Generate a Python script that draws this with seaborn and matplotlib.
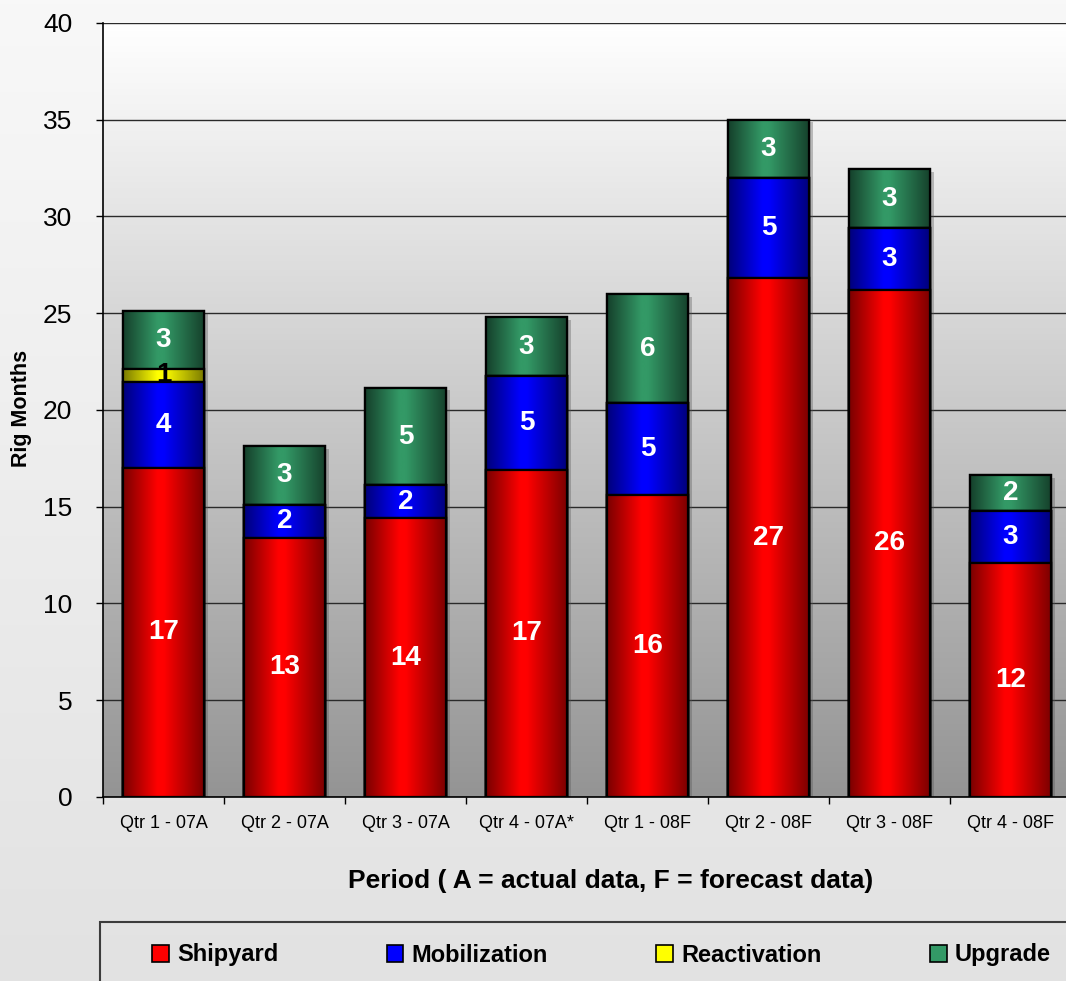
import numpy as np
import matplotlib
matplotlib.use('Agg')
import matplotlib.pyplot as plt
import matplotlib.patheffects as pe
from matplotlib.colors import LinearSegmentedColormap
from matplotlib.patches import Rectangle, Patch
import seaborn as sns

# dati (mesi-impianto per trimestre)
periods = ['Qtr 1 - 07A', 'Qtr 2 - 07A', 'Qtr 3 - 07A', 'Qtr 4 - 07A*',
           'Qtr 1 - 08F', 'Qtr 2 - 08F', 'Qtr 3 - 08F', 'Qtr 4 - 08F']
shipyard = [17.0, 13.4, 14.4, 16.9, 15.6, 26.8, 26.2, 12.1]
mobilization = [4.45, 1.7, 1.7, 4.85, 4.75, 5.2, 3.2, 2.7]
reactivation = [0.67, 0, 0, 0, 0, 0, 0, 0]
upgrade = [3.0, 3.05, 5.05, 3.05, 5.65, 3.0, 3.05, 1.85]

names = ['Shipyard', 'Mobilization', 'Reactivation', 'Upgrade']
colors = ['#ff0000', '#0000ff', '#ffff00', '#339966']
dark = ['#7a0000', '#00007a', '#7a7a00', '#15402b']

sns.set_style('white')
plt.rcParams['font.family'] = ['Liberation Sans', 'DejaVu Sans']
plt.rcParams['text.color'] = 'black'
plt.rcParams['xtick.color'] = 'black'
plt.rcParams['ytick.color'] = 'black'
plt.rcParams['axes.labelcolor'] = 'black'

fig = plt.figure(figsize=(10.66, 9.81), dpi=100)

# sfondo della figura (sfumatura)
bg = fig.add_axes([0, 0, 1, 1], zorder=-10)
bg.imshow(np.linspace(0, 1, 256).reshape(-1, 1), aspect='auto', extent=(0, 1, 0, 1),
          cmap=LinearSegmentedColormap.from_list('fbg', ['#f8f8f8', '#e2e2e2']))
bg.axis('off')

ax = fig.add_axes([0.0966, 0.1876, 0.9081, 0.789])
ax.set_facecolor('none')

# area del grafico: da bianco a grigio
ax.imshow(np.linspace(0, 1, 256).reshape(-1, 1), aspect='auto', extent=(-0.5, 7.5, 0, 40),
          cmap=LinearSegmentedColormap.from_list('pbg', ['#ffffff', '#949494']), zorder=0.1)

series = [shipyard, mobilization, reactivation, upgrade]
cum = np.cumsum(np.array(series), axis=0)  # cumulata dal basso

# si disegna dal totale (piu alto) verso il basso
for k, i in enumerate([3, 2, 1, 0]):
    n0 = len(ax.patches)
    sns.barplot(x=periods, y=cum[i], color=colors[i], saturation=1, width=0.67,
                edgecolor='black', linewidth=1.6, errorbar=None, ax=ax, zorder=2 + k)
    bars = ax.patches[n0:]
    cmap = LinearSegmentedColormap.from_list('g%d' % i, [(0, dark[i]), (0.42, colors[i]),
                                                          (0.5, colors[i]), (1, dark[i])])
    for b in bars:
        x0, y0, w, h = b.get_x(), b.get_y(), b.get_width(), b.get_height()
        if k == 0:
            b.set_path_effects([pe.SimplePatchShadow(offset=(3, -2), shadow_rgbFace='#555555',
                                                     alpha=0.35), pe.Normal()])
        if h <= 0:
            continue
        im = ax.imshow(np.linspace(0, 1, 200).reshape(1, -1), cmap=cmap, aspect='auto',
                       extent=(x0, x0 + w, y0, y0 + h), zorder=2 + k + 0.3,
                       interpolation='bilinear')
        im.set_clip_path(b)
        ax.add_patch(Rectangle((x0, y0), w, h, fill=False, edgecolor='black', lw=1.6,
                               zorder=2 + k + 0.6))

# etichette dei valori
for i, vals in enumerate(series):
    for j, v in enumerate(vals):
        if v <= 0:
            continue
        base = cum[i][j] - v
        ax.text(j, base + v / 2, '%d' % round(v), ha='center', va='center',
                fontsize=20, fontweight='bold',
                color='black' if names[i] == 'Reactivation' else 'white', zorder=20)

ax.set_xlim(-0.5, 7.5)
ax.set_ylim(0, 40)
ax.set_yticks(range(0, 41, 5))
ax.set_xticks(range(len(periods)), periods)
ax.set_xticks(np.arange(-0.5, len(periods), 1), minor=True)
ax.set_xlabel('')
ax.set_ylabel('')
ax.set_axisbelow(True)
ax.yaxis.grid(True, color='#2a2a2a', lw=1)
ax.xaxis.grid(False)
ax.tick_params(axis='y', left=True, length=5, width=1, color='black', labelcolor='black',
               labelsize=19, pad=17)
ax.tick_params(axis='x', which='major', bottom=True, length=0, labelsize=13, pad=13,
               labelcolor='black')
ax.tick_params(axis='x', which='minor', bottom=True, length=5, width=1, color='black')
for s in ['top', 'right']:
    ax.spines[s].set_visible(False)
for s in ['left', 'bottom']:
    ax.spines[s].set_color('black')
    ax.spines[s].set_linewidth(1.2)

fig.text(22 / 1066, 1 - 408 / 981, 'Rig Months', rotation=90, ha='center', va='center',
         fontsize=15.5, fontweight='bold')
fig.text(611 / 1066, 1 - 881 / 981, 'Period ( A = actual data, F = forecast data)',
         ha='center', va='center', fontsize=19, fontweight='bold')

# legenda in basso
fig.add_artist(Rectangle((100 / 1066, -0.05), 1.0, (1 - 922 / 981) + 0.05,
                         transform=fig.transFigure, fill=False, edgecolor='#3c3c3c', lw=1.5))
handles = [Patch(facecolor=c, edgecolor='black', lw=1.2) for c in colors]
fig.legend(handles, names, loc='center left', bbox_to_anchor=(152 / 1066, 1 - 955 / 981),
           ncol=4, frameon=False, prop=dict(weight='bold', size=17), handlelength=0.7,
           handleheight=0.7, handletextpad=0.35, columnspacing=4.6, borderaxespad=0,
           borderpad=0)

fig.savefig('out.png', dpi=100)
